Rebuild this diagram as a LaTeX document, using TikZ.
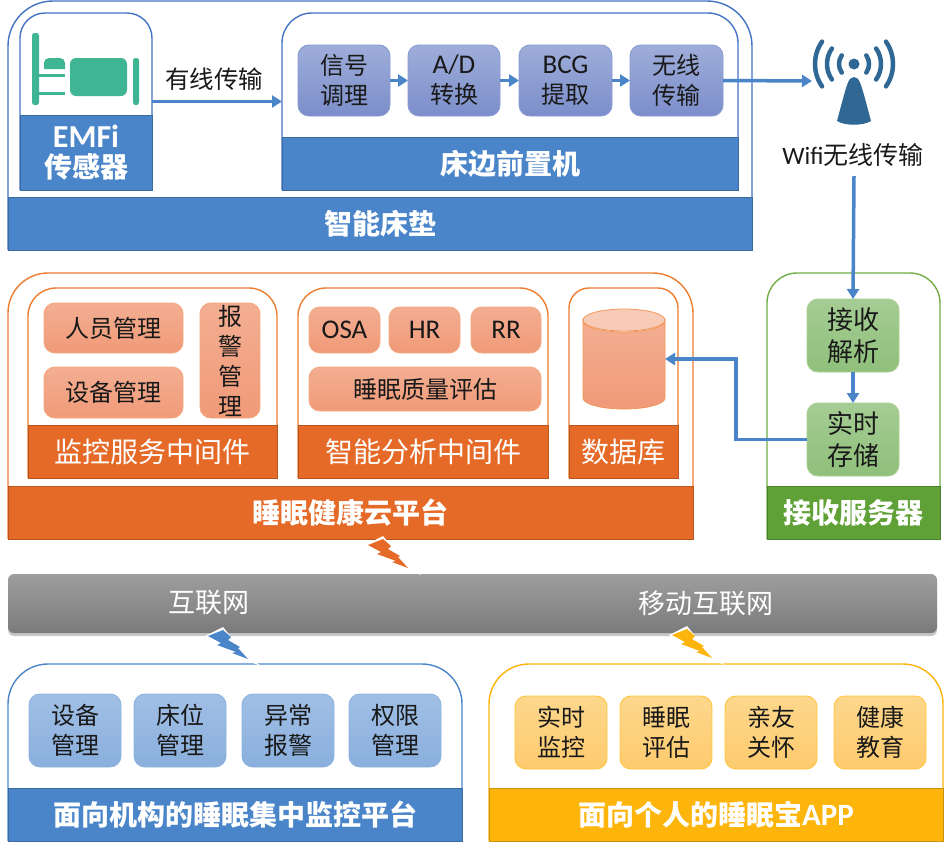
\documentclass[tikz,border=0pt]{standalone}
\usepackage{fontspec}
\setmainfont{Noto Sans CJK SC}
\newfontfamily\lat{Carlito}
\usetikzlibrary{arrows.meta,calc}
\definecolor{bband}{HTML}{4A85C9}
\definecolor{bline}{HTML}{4472C4}
\definecolor{oband}{HTML}{E56A27}
\definecolor{oline}{HTML}{ED7D31}
\definecolor{gband}{HTML}{5FA136}
\definecolor{gline}{HTML}{70AD47}
\definecolor{yband}{HTML}{FDB50C}
\definecolor{teal}{HTML}{3FB594}
\definecolor{wifi}{HTML}{2F6795}
\tikzset{
  x=1pt,y=-1pt,
  base/.style={inner sep=0pt,outer sep=0pt,align=center,text=black!90},
  txt/.style={base,font=\fontsize{24}{30}\selectfont},
  band/.style={base,draw=#1!80!black,fill=#1,line width=1pt,text=white,font=\fontsize{28}{31}\selectfont},
  bandb/.style={band=#1,font=\fontsize{28}{31}\selectfont\bfseries},
  pbox/.style={txt,rounded corners=11pt,line width=.9pt},
  periw/.style={pbox,draw={rgb,255:red,136;green,154;blue,210},top color={rgb,255:red,158;green,173;blue,217},bottom color={rgb,255:red,124;green,142;blue,203}},
  orbox/.style={pbox,draw={rgb,255:red,244;green,167;blue,126},top color={rgb,255:red,243;green,174;blue,146},bottom color={rgb,255:red,240;green,154;blue,120}},
  grbox/.style={pbox,font=\fontsize{26}{32}\selectfont,draw={rgb,255:red,169;green,209;blue,142},top color={rgb,255:red,165;green,204;blue,148},bottom color={rgb,255:red,143;green,192;blue,123}},
  blbox/.style={pbox,draw={rgb,255:red,139;green,179;blue,224},top color={rgb,255:red,160;green,191;blue,229},bottom color={rgb,255:red,138;green,175;blue,221}},
  yebox/.style={pbox,draw={rgb,255:red,254;green,197;blue,61},top color={rgb,255:red,253;green,215;blue,140},bottom color={rgb,255:red,254;green,203;blue,110}},
  arr/.style={draw=bband,line width=3.5pt,-{Triangle[length=10pt,width=12pt]}},
  hole/.style={inner sep=0pt,outer sep=0pt}
}
\newcommand\bx[6]{\node[#6,minimum width={#3-#1},minimum height={#4-#2}] (#5) at ({(#1+#3)/2},{(#2+#4)/2})}
\newcommand\pan[7]{% x0 y0 x1 y1 r colour name
  \node[hole,minimum width={#3-#1},minimum height={#4-#2}] (#7) at ({(#1+#3)/2},{(#2+#4)/2}) {};
  \draw[#6,line width=1.4pt,fill=white,rounded corners=#5pt] (#1,#4) -- (#1,#2) -- (#3,#2) -- (#3,#4);
}
\newcommand\bolt[3]{%
  \begin{scope}[shift={(#1,#2)}]
    \fill[white] (383,536) -- (365,545) -- (378,553) -- (375,555) -- (389,561) -- (405,569) -- (421,575) -- (408,565) -- (401,557) -- (392,547) -- cycle;
    \fill[#3] (383,539) -- (368,545) -- (381,552) -- (377,554) -- (396,561) -- (392,562) -- (408,568) -- (398,557) -- (400,556) -- (388,549) -- (391,546) -- cycle;
  \end{scope}}
\begin{document}
\begin{tikzpicture}
\useasboundingbox (0,0) rectangle (945,849);
% smart mattress
\pan{8}{1}{752}{250}{45}{bline}{mat}
\pan{20}{13}{152}{190}{25}{bline}{emfi}
\pan{282}{13}{738}{190}{30}{bline}{front}
\bx{8}{197}{752}{250}{matband}{bandb=bband}{智能床垫};
\bx{20}{115}{152}{190}{emfiband}{bandb=bband}{{\fontsize{32}{31}\selectfont\lat EMFi}\\[-1pt]传感器};
\bx{282}{137}{738}{190}{frontband}{bandb=bband}{床边前置机};
\bx{298}{45}{390}{116}{sig}{periw}{信号\\调理};
\bx{408}{45}{500}{116}{ad}{periw}{{\fontsize{27}{30}\selectfont\lat A/D}\\转换};
\bx{519}{45}{612}{116}{bcg}{periw}{{\fontsize{27}{30}\selectfont\lat BCG}\\提取};
\bx{630}{45}{723}{116}{wl}{periw}{无线\\传输};
% bed icon
\begin{scope}[teal]
  \fill[rounded corners=2.5pt] (32,33) rectangle (39,105);
  \fill[rounded corners=2.5pt] (133,58) rectangle (139,105);
  \fill (38,74) rectangle (65,77);
  \fill (38,92) rectangle (65,95);
  \fill (44,69) [rounded corners=5pt] -- (44,58) -- (65,58) [sharp corners] -- (65,69) -- cycle;
  \fill[rounded corners=6pt] (70,96) -- (70,58) -- (127,58) -- (127,96) -- cycle;
\end{scope}
% wifi icon
\coordinate (ant) at (812,81);
\begin{scope}[wifi,line width=4.5pt,line cap=round]
  \fill (854,64) circle[radius=5.5pt];
  \foreach \r in {15,27,39}{
    \draw (854,64) ++(35:\r pt) arc[start angle=35,end angle=-35,radius=\r pt];
    \draw (854,64) ++(145:\r pt) arc[start angle=145,end angle=215,radius=\r pt];
  }
  \fill (854,77) .. controls (848,77) and (847,84) .. (837,121) .. controls (845,126) and (863,126) .. (871,121) .. controls (861,84) and (860,77) .. (854,77) -- cycle;
\end{scope}
\node[base,font=\fontsize{25}{30}\selectfont] (wifitxt) at (853,155) {{\lat Wifi}无线传输};
\node[base,font=\fontsize{24.5}{30}\selectfont] (wired) at (214,79) {有线传输};
% cloud
\pan{8}{273}{693}{539}{40}{oline}{cloud}
\pan{28}{288}{277}{478}{28}{oline}{mon}
\pan{298}{288}{548}{478}{28}{oline}{ana}
\pan{569}{288}{678}{478}{20}{oline}{dbp}
\bx{8}{486}{693}{539}{cloudband}{bandb=oband}{睡眠健康云平台};
\bx{28}{425}{277}{478}{monband}{band=oband}{监控服务中间件};
\bx{298}{425}{548}{478}{anaband}{band=oband}{智能分析中间件};
\bx{569}{425}{678}{478}{dbband}{band=oband}{数据库};
\bx{44}{303}{183}{353}{ry}{orbox}{人员管理};
\bx{44}{367}{183}{418}{sb}{orbox}{设备管理};
\bx{200}{303}{260}{418}{bj}{orbox}{报\\警\\管\\理};
\bx{309}{307}{380}{353}{osa}{orbox}{\fontsize{27}{30}\selectfont\lat OSA};
\bx{389}{307}{460}{353}{hr}{orbox}{\fontsize{27}{30}\selectfont\lat HR};
\bx{471}{307}{541}{353}{rr}{orbox}{\fontsize{27}{30}\selectfont\lat RR};
\bx{309}{367}{541}{411}{qual}{orbox}{睡眠质量评估};
% database cylinder
\node[hole,minimum width=82,minimum height=100] (db) at (624,359) {};
\draw[oline!80,line width=.8pt,top color={rgb,255:red,243;green,174;blue,146},bottom color={rgb,255:red,240;green,154;blue,120}]
  (583,321) -- (583,398) arc[start angle=180,end angle=360,x radius=41pt,y radius=11pt] -- (665,321) arc[start angle=0,end angle=-180,x radius=41pt,y radius=11pt] -- cycle;
\draw[oline!80,line width=.8pt,fill={rgb,255:red,248;green,203;blue,184}] (624,320) ellipse[x radius=41pt,y radius=11pt];
% receive server
\pan{767}{273}{940}{539}{30}{gline}{srv}
\bx{767}{486}{940}{539}{srvband}{bandb=gband}{接收服务器};
\bx{807}{299}{899}{372}{recv}{grbox}{接收\\解析};
\bx{807}{403}{899}{476}{store}{grbox}{实时\\存储};
% network bar
\fill[black!22,rounded corners=6pt] (8,576) rectangle (937,636);
\bx{8}{574}{937}{633}{net}{base,rounded corners=6pt,top color=black!38,bottom color=black!52}{};
\node[base,text=white,font=\fontsize{27}{30}\selectfont] (inet) at (209,603) {互联网};
\node[base,text=white,font=\fontsize{27}{30}\selectfont] (minet) at (706,603) {移动互联网};
% institution platform
\pan{8}{664}{462}{841}{40}{bband}{inst}
\bx{8}{788}{462}{841}{instband}{bandb=bband}{面向机构的睡眠集中监控平台};
\bx{29}{694}{121}{767}{i1}{blbox}{设备\\管理};
\bx{134}{694}{226}{767}{i2}{blbox}{床位\\管理};
\bx{242}{694}{334}{767}{i3}{blbox}{异常\\报警};
\bx{349}{694}{441}{767}{i4}{blbox}{权限\\管理};
% personal app
\pan{489}{664}{943}{841}{40}{yband}{app}
\bx{489}{788}{943}{841}{appband}{bandb=yband}{面向个人的睡眠宝{\fontsize{31}{31}\selectfont\lat APP}};
\bx{515}{696}{607}{769}{a1}{yebox}{实时\\监控};
\bx{620}{696}{712}{769}{a2}{yebox}{睡眠\\评估};
\bx{725}{696}{817}{769}{a3}{yebox}{亲友\\关怀};
\bx{834}{696}{926}{769}{a4}{yebox}{健康\\教育};
% lightning
\bolt{0}{0}{oband}
\bolt{-160}{91}{bband}
\bolt{304}{90}{yband}
% connectors
\draw[arr] (emfi.east) -- (front.west);
\draw[arr] (sig) -- (ad);
\draw[arr] (ad) -- (bcg);
\draw[arr] (bcg) -- (wl);
\draw[arr] (wl.east) -- (ant);
\draw[arr] (854,176) -- (recv.north);
\draw[arr] (recv) -- (store);
\draw[arr] (store.west) -- ++(-71,0) |- (db.east);
\end{tikzpicture}
\end{document}
